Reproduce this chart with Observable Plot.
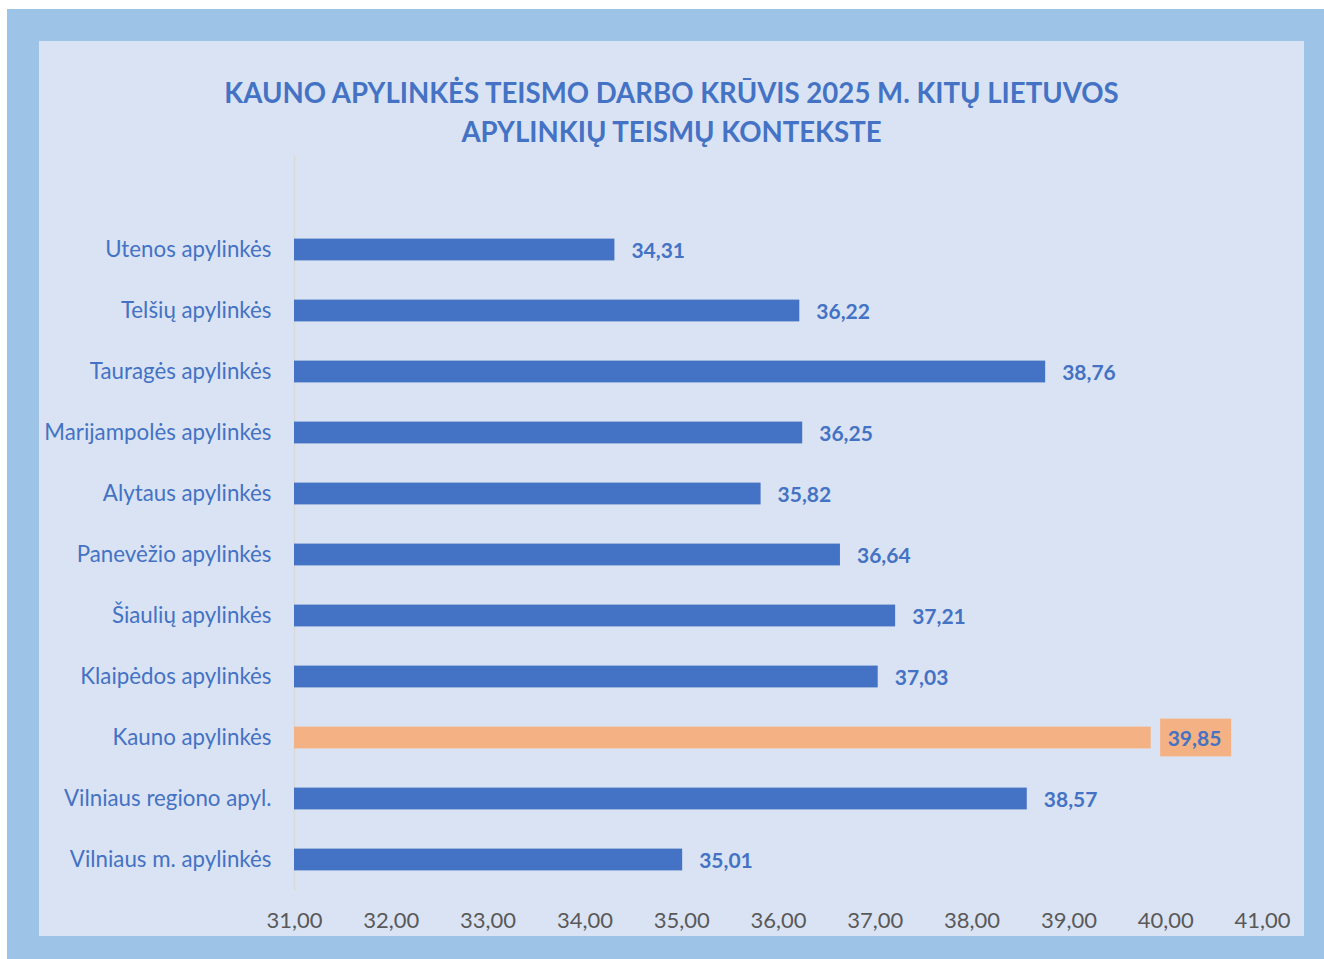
<!DOCTYPE html>
<html>
<head>
<meta charset="utf-8">
<script src="https://cdn.jsdelivr.net/npm/d3@7"></script>
<script src="https://cdn.jsdelivr.net/npm/@observablehq/plot@0.6"></script>
<style>
  html, body { margin: 0; padding: 0; background: #ffffff; }
  body { width: 1324px; height: 959px; position: relative; overflow: hidden; font-family: Lato, "Open Sans", sans-serif; }
  #outer { position: absolute; left: 7px; top: 9px; width: 1317px; height: 950px; background: #9DC3E6; }
  #inner { position: absolute; left: 39px; top: 41px; width: 1265px; height: 895px; background: #DAE3F3; }
  #title { position: absolute; left: 39px; top: 73px; width: 1265px; text-align: center; color: #4472C4;
           font-weight: bold; font-size: 27.6px; line-height: 39px; font-family: Lato, "Open Sans", sans-serif; }
  #chart { position: absolute; left: 39px; top: 150px; }
</style>
</head>
<body>
<div id="outer"></div>
<div id="inner"></div>
<div id="title">KAUNO APYLINKĖS TEISMO DARBO KRŪVIS 2025 M. KITŲ LIETUVOS<br>APYLINKIŲ TEISMŲ KONTEKSTE</div>
<div id="chart"></div>
<script>
const courts = [
  "Utenos apylinkės",
  "Telšių apylinkės",
  "Tauragės apylinkės",
  "Marijampolės apylinkės",
  "Alytaus apylinkės",
  "Panevėžio apylinkės",
  "Šiaulių apylinkės",
  "Klaipėdos apylinkės",
  "Kauno apylinkės",
  "Vilniaus regiono apyl.",
  "Vilniaus m. apylinkės"
];
const workload = [34.31, 36.22, 38.76, 36.25, 35.82, 36.64, 37.21, 37.03, 39.85, 38.57, 35.01];
const highlight = "Kauno apylinkės";
const xTicks = [31, 32, 33, 34, 35, 36, 37, 38, 39, 40, 41];

const data = courts.map((c, i) => ({court: c, v: workload[i]}));
const fmt = v => v.toFixed(2).replace(".", ",");
const blue = "#4472C4", orange = "#F4B183";

const chart = Plot.plot({
  width: 1265,
  height: 786,
  marginLeft: 255,
  marginRight: 42,
  marginTop: 67.6,
  marginBottom: 45.4,
  style: {background: "transparent", fontFamily: "Lato, 'Open Sans', sans-serif", fontSize: "22px", overflow: "visible"},
  x: {domain: [31, 41], ticks: xTicks, tickFormat: fmt, label: null},
  y: {domain: courts, padding: 0, label: null},
  marks: [
    Plot.ruleX([31], {stroke: "#d9d9d9", strokeWidth: 1.5, insetTop: -62}),
    Plot.barX(data, {
      y: "court", x1: () => 31, x2: "v",
      insetTop: 19.6, insetBottom: 19.6,
      fill: d => d.court === highlight ? orange : blue
    }),
    Plot.barX(data.filter(d => d.court === highlight), {
      y: "court", x1: "v", x2: "v",
      insetLeft: 9.5, insetRight: -80.5, insetTop: 11.6, insetBottom: 11.6,
      fill: orange
    }),
    Plot.text(data, {
      y: "court", x: "v", text: d => fmt(d.v),
      textAnchor: "start", dx: 16.5, dy: 1.5,
      fill: blue, fontWeight: "bold", fontSize: 21
    }),
    Plot.axisX({ticks: xTicks, tickFormat: fmt, tickSize: 0, tickPadding: 21, fill: "#595959", fontSize: 22, label: null}),
    Plot.axisY({tickSize: 0, tickPadding: 23, fill: blue, fontSize: 22.3, label: null})
  ]
});
document.getElementById("chart").appendChild(chart);
</script>
</body>
</html>
